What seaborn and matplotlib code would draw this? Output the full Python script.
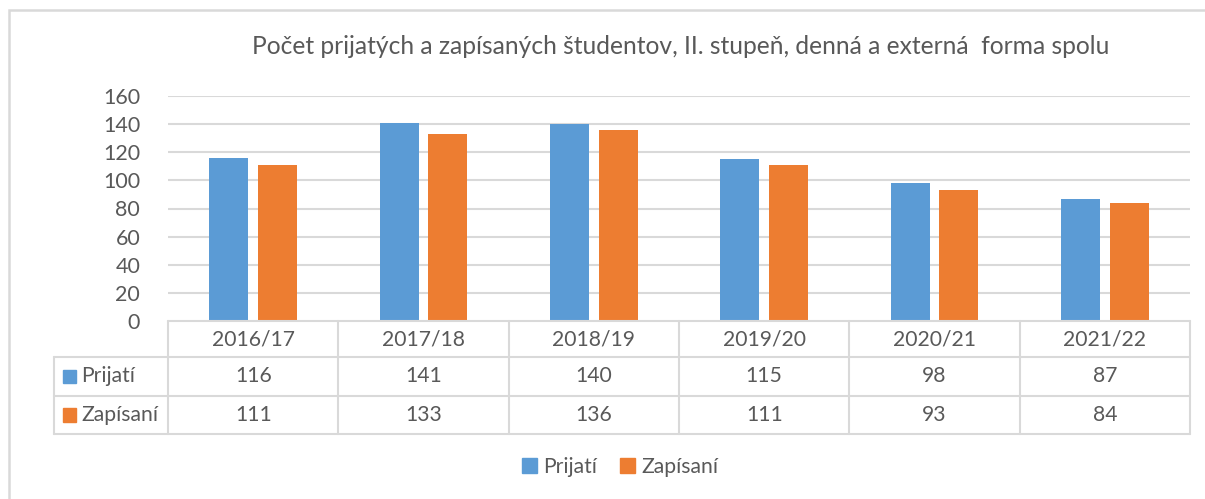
import matplotlib
matplotlib.use("Agg")
import matplotlib.pyplot as plt
import matplotlib.patches as mpatches
import matplotlib.transforms as mtransforms
import seaborn as sns
import pandas as pd

years = ["2016/17", "2017/18", "2018/19", "2019/20", "2020/21", "2021/22"]
prijati = [116, 141, 140, 115, 98, 87]
zapisani = [111, 133, 136, 111, 93, 84]
series = ["Prijatí", "Zapísaní"]
colors = ["#5B9BD5", "#ED7D31"]
title = "Počet prijatých a zapísaných študentov, II. stupeň, denná a externá  forma spolu"

df = pd.DataFrame({
    "rok": years * 2,
    "pocet": prijati + zapisani,
    "typ": [series[0]] * len(years) + [series[1]] * len(years),
})

sns.set_style("white")
plt.rcParams["font.family"] = ["Lato", "DejaVu Sans"]
txt = "#595959"
grid = "#D9D9D9"
fs = 15.2

W, H = 1205, 499
fig = plt.figure(figsize=(W / 100, H / 100), dpi=100)
ax = fig.add_axes([168 / W, 1 - 321 / H, (1190 - 168) / W, (321 - 96) / H])

sns.barplot(data=df, x="rok", y="pocet", hue="typ", palette=colors,
            width=0.571, gap=0.2, ax=ax, legend=False, saturation=1, linewidth=0)

ax.set_ylim(0, 160)
ax.set_xlim(-0.5, len(years) - 0.5)
ax.set_yticks(range(0, 161, 20))
for y in range(20, 161, 20):
    ax.axhline(y, color=grid, lw=1.5, zorder=0)
ax.tick_params(axis="y", length=0, labelsize=15.5, labelcolor=txt, pad=20)
ax.set_xticks([])
ax.set_xlabel("")
ax.set_ylabel("")
for s in ax.spines.values():
    s.set_visible(False)

# data table under the axis
trans = mtransforms.blended_transform_factory(ax.transData, ax.transAxes)
rows = [0, -36 / 225, -75 / 225, -113 / 225]
left = -0.5 - (168 - 54) / (1022 / 6)
n = len(years)
lk = dict(color=grid, lw=1.5, clip_on=False, transform=trans)
ax.plot([-0.5, n - 0.5], [rows[0], rows[0]], **lk)
for r in rows[1:]:
    ax.plot([left, n - 0.5], [r, r], **lk)
ax.plot([left, left], [rows[1], rows[3]], **lk)
for i in range(n + 1):
    ax.plot([i - 0.5, i - 0.5], [rows[0], rows[3]], **lk)

tk = dict(transform=trans, ha="center", va="center", fontsize=fs, color=txt, clip_on=False)
for i, yr in enumerate(years):
    ax.text(i, (rows[0] + rows[1]) / 2, yr, **tk)
    ax.text(i, (rows[1] + rows[2]) / 2, str(prijati[i]), **tk)
    ax.text(i, (rows[2] + rows[3]) / 2, str(zapisani[i]), **tk)

for j, (name, c) in enumerate(zip(series, colors)):
    ymid = (rows[j + 1] + rows[j + 2]) / 2
    ax.add_patch(mpatches.Rectangle((left + 0.05, ymid - 0.03), 0.08, 0.06,
                                    transform=trans, color=c, clip_on=False))
    ax.text(left + 0.16, ymid, name, transform=trans, ha="left", va="center",
            fontsize=fs, color=txt, clip_on=False)

fig.text(681 / W, 1 - 46 / H, title, ha="center", va="center", fontsize=17.7, color=txt)

handles = [mpatches.Patch(color=c, label=s) for s, c in zip(series, colors)]
fig.legend(handles=handles, loc="center", bbox_to_anchor=(620 / W, 1 - 467 / H), ncol=2,
           frameon=False, fontsize=fs, labelcolor=txt, handlelength=0.7, handleheight=0.7,
           handletextpad=0.3, columnspacing=1.1)

fig.add_artist(mpatches.Rectangle((9 / W, -0.1), 1.2, 1 - 10 / H + 0.1, transform=fig.transFigure,
                                  fill=False, edgecolor=grid, lw=1.8))

fig.savefig("out.png", dpi=100)
